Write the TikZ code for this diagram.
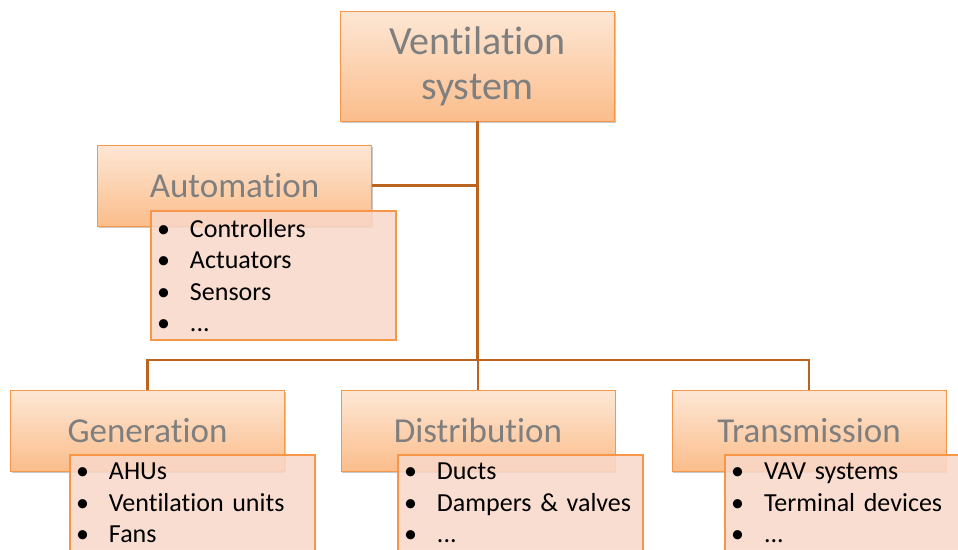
\documentclass[tikz,border=0pt]{standalone}
\usepackage{fontspec}
\setmainfont{Carlito}[Ligatures=NoCommon]
\usetikzlibrary{shadows}
\definecolor{edgeor}{HTML}{F79646}
\definecolor{topc}{HTML}{FDE7D5}
\definecolor{botc}{HTML}{FBBD8B}
\definecolor{listfill}{HTML}{F8D8CA}
\definecolor{linec}{HTML}{BA6420}
\definecolor{titlegray}{HTML}{7F7F7F}
\tikzset{
 titlebox/.style={draw=edgeor, line width=0.8pt, top color=topc, bottom color=botc,
   minimum width=274pt, minimum height=81pt, inner sep=0pt, text=titlegray,
   font=\fontsize{35}{40}\selectfont,
   drop shadow={shadow xshift=1pt, shadow yshift=-2pt, opacity=0.35, fill=black!60}},
 listbox/.style={draw=edgeor, line width=2pt, fill=listfill, fill opacity=0.85, text opacity=1,
   anchor=north west, text width=233pt, align=left, font=\fontsize{26}{31.5}\selectfont,
   inner xsep=6pt, inner ysep=8pt},
 conn/.style={draw=linec, line width=2.2pt}
}
\newcommand{\itm}[1]{\makebox[33pt][l]{\textbullet}#1}
\begin{document}
\begin{tikzpicture}[x=1pt,y=-1pt]
\clip (0,0) rectangle (958,549);
\fill[white] (0,0) rectangle (958,549);
% title boxes
\node[titlebox, minimum height=110pt, font=\fontsize{40}{45}\selectfont, align=center] (top) at (477.5,66) {Ventilation\\system};
\node[titlebox] (auto) at (234.5,185.5) {Automation};
\node[titlebox] (gen) at (147.5,430.5) {Generation};
\node[titlebox] (dist) at (478,430.5) {Distribution};
\node[titlebox] (trans) at (809,430.5) {Transmission};
% connectors
\coordinate (bus) at (477.5,360);
\draw[conn] (top.south) -- (bus);
\draw[conn] (auto.east) -- (auto.east -| top.south);
\draw[conn] (gen.north) |- (bus) -| (trans.north);
\draw[conn] (dist.north) -- (dist.north |- bus);
% list boxes
\node[listbox] (autolist) at (150,210) {\itm{Controllers}\\\itm{Actuators}\\\itm{Sensors}\\\itm{...}};
\node[listbox] (genlist) at (69,454) {\itm{AHUs}\\\itm{Ventilation units}\\\itm{Fans}};
\node[listbox] (distlist) at (397,454) {\itm{Ducts}\\\itm{Dampers \& valves}\\\itm{...}};
\node[listbox] (translist) at (724,454) {\itm{VAV systems}\\\itm{Terminal devices}\\\itm{...}};
\end{tikzpicture}
\end{document}
